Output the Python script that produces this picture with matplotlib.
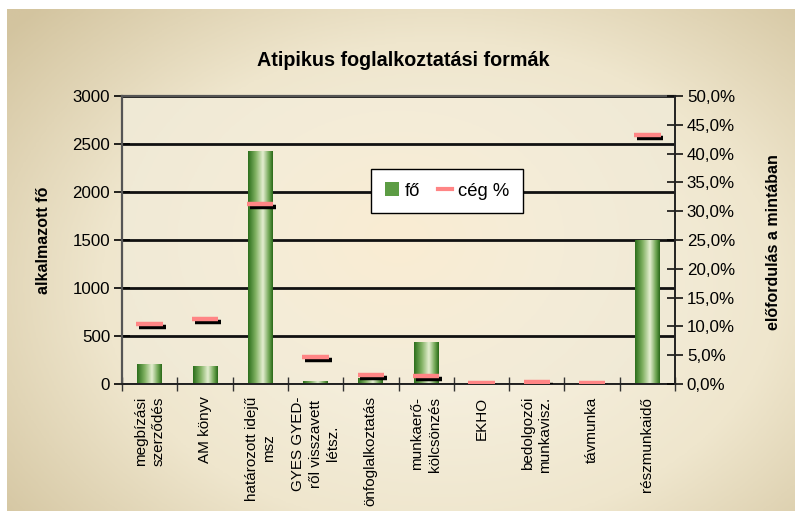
import numpy as np
import matplotlib
matplotlib.use("Agg")
import matplotlib.pyplot as plt
import matplotlib.patheffects as pe
from matplotlib.colors import LinearSegmentedColormap
from matplotlib.ticker import FuncFormatter, MultipleLocator

#---------------------------------------------------
#  Data
#---------------------------------------------------
categories = ["megbízási\nszerződés", "AM könyv", "határozott idejű\nmsz",
              "GYES GYED-\nről visszavett\nlétsz.", "önfoglalkoztatás",
              "munkaerő-\nkölcsönzés", "EKHO", "bedolgozói\nmunkavisz.",
              "távmunka", "részmunkaidő"]
fo = [210, 190, 2430, 30, 60, 440, 0, 0, 0, 1500]
ceg_pct = [10.4, 11.3, 31.2, 4.7, 1.6, 1.4, 0.2, 0.35, 0.2, 43.2]

plt.rcParams['font.family'] = ['Liberation Sans', 'DejaVu Sans']

fig = plt.figure(figsize=(7.95, 5.13), dpi=100)
fig.patch.set_facecolor('white')

# background box with soft gradient
bg = fig.add_axes([7/795, 2/513, 788/795, 502/513])
bg.set_axis_off()
yy, xx = np.mgrid[0:1:200j, 0:1:300j]
d = np.sqrt(((xx - 0.55) / 0.75) ** 2 + ((yy - 0.55) / 0.85) ** 2)
bg_cmap = LinearSegmentedColormap.from_list('bg', ['#f6f0df', '#efe6cd', '#d3c49f'])
bg.imshow(np.clip(d, 0, 1), cmap=bg_cmap, aspect='auto', extent=(0, 1, 0, 1),
          vmin=0.2, vmax=0.95)
bg.set_xlim(0, 1)
bg.set_ylim(0, 1)

ax = fig.add_axes([122/795, 1 - 384/513, 553/795, 288/513])
ax.patch.set_alpha(0)
ax.set_axisbelow(True)

# plot area gradient
pa_cmap = LinearSegmentedColormap.from_list('pa', ['#faedd3', '#f4ecd8', '#efe9d5'])
d2 = np.sqrt(((xx - 0.5) / 0.6) ** 2 + ((yy - 0.5) / 0.9) ** 2)
ax.imshow(np.clip(d2, 0, 1), cmap=pa_cmap, aspect='auto', extent=(0, 1, 0, 1),
          transform=ax.transAxes, zorder=0.1)

x = np.arange(len(categories))
bars = ax.bar(x, fo, width=0.45, color='#4f9238', zorder=2)

bar_cmap = LinearSegmentedColormap.from_list(
    'bar', [(0, '#2c6f1c'), (0.3, '#7fb060'), (0.6, '#e4eed0'), (0.85, '#6ea552'), (1, '#2a6a1a')])
grad = np.linspace(0, 1, 64).reshape(1, -1)
for b in bars:
    h = b.get_height()
    if h <= 0:
        continue
    im = ax.imshow(grad, cmap=bar_cmap, aspect='auto', zorder=2.1,
                   extent=(b.get_x(), b.get_x() + b.get_width(), 0, h))
    im.set_clip_path(b)

ax.set_xlim(-0.5, len(categories) - 0.5)
ax.set_ylim(0, 3000)
ax.yaxis.set_major_locator(MultipleLocator(500))
ax.grid(axis='y', color='#111111', linewidth=2)
ax.set_xticks(x)
ax.set_xticklabels(categories, rotation=90, va='top', ha='center',
                   multialignment='right', fontsize=11, linespacing=1.3)
for i, t in enumerate(ax.get_xticklabels()):
    if i in (2, 3):
        t.set_multialignment('center')
ax.set_xticks(np.arange(-0.5, len(categories)), minor=True)
ax.tick_params(axis='x', which='major', length=0, pad=9)
ax.tick_params(axis='x', which='minor', direction='inout', length=10, width=1, color='#333333')
ax.tick_params(axis='y', direction='inout', length=11, width=1.2, labelsize=12.2, pad=3)

for s in ['left', 'top']:
    ax.spines[s].set_color('#555555')
ax.spines['left'].set_linewidth(1.6)
ax.spines['top'].set_linewidth(1.6)
ax.spines['bottom'].set_color('#222222')
ax.spines['bottom'].set_linewidth(1.4)
ax.spines['right'].set_visible(False)

ax2 = ax.twinx()
ax2.set_ylim(0, 50)
ax2.yaxis.set_major_locator(MultipleLocator(5))
ax2.yaxis.set_major_formatter(FuncFormatter(lambda v, p: f"{v:.1f}%".replace('.', ',')))
ax2.tick_params(axis='y', direction='inout', length=11, width=1.1, labelsize=12.2, pad=3)
for s in ['left', 'top', 'bottom']:
    ax2.spines[s].set_visible(False)
ax2.spines['right'].set_color('#222222')
ax2.spines['right'].set_linewidth(1.4)

line, = ax2.plot(x, ceg_pct, linestyle='none', marker='_', markersize=19,
                 markeredgewidth=3.2, color='#ff8585', zorder=3,
                 path_effects=[pe.SimpleLineShadow(offset=(2, -2.2), shadow_color='black', alpha=1),
                               pe.Normal()])

leg_handle_bar = plt.Rectangle((0, 0), 1, 1, facecolor='#5c9c44', edgecolor='none')
leg_line, = ax2.plot([], [], color='#ff8585', linewidth=3)
leg = ax2.legend([leg_handle_bar, leg_line], ['fő', 'cég %'], ncol=2,
                 loc='center', bbox_to_anchor=(447/795, 1 - 191/513),
                 bbox_transform=fig.transFigure, fancybox=False, framealpha=1,
                 edgecolor='black', fontsize=13.3, handlelength=0.75, handleheight=0.75,
                 handletextpad=0.3, columnspacing=1.0, borderpad=0.75)
leg.get_frame().set_linewidth(1.0)

fig.text(403/795, 1 - 60/513, 'Atipikus foglalkoztatási formák', ha='center', va='center',
         fontsize=14.2, fontweight='bold')
fig.text(44/795, 1 - 240/513, 'alkalmazott fő', ha='center', va='center', rotation=90,
         fontsize=11.5, fontweight='bold')
fig.text(773/795, 1 - 242/513, 'előfordulás a mintában', ha='center', va='center',
         rotation=90, fontsize=11.5, fontweight='bold')

fig.savefig('out.png', dpi=100)
